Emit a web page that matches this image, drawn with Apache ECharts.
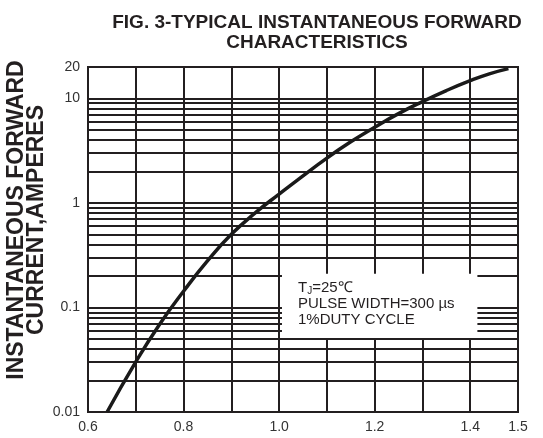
<!DOCTYPE html>
<html>
<head>
<meta charset="utf-8">
<script src="https://cdn.jsdelivr.net/npm/echarts@6/dist/echarts.min.js"></script>
<style>html,body{margin:0;padding:0;background:#fff;}#c{width:543px;height:438px;}</style>
</head>
<body>
<div id="c"></div>
<script>
// Forward voltage (V) and instantaneous forward current (A)
const voltage = [0.64, 0.70, 0.75, 0.80, 0.85, 0.90, 0.95, 1.00, 1.05, 1.10, 1.15, 1.20, 1.25, 1.30, 1.35, 1.40, 1.44, 1.48];
const current = [0.0100, 0.0302, 0.0692, 0.143, 0.279, 0.501, 0.804, 1.216, 1.82, 2.69, 3.85, 5.31, 7.16, 9.33, 11.9, 14.8, 17.2, 19.3];
const xTickLabels = ['0.6', '0.8', '1.0', '1.2', '1.4', '1.5'];
const yTickValues = [0.01, 0.1, 1, 10, 20];
const yTickLabels = ['0.01', '0.1', '1', '10', '20'];
const minorGridValues = [0.02,0.03,0.04,0.05,0.06,0.07,0.08,0.09,0.2,0.3,0.4,0.5,0.6,0.7,0.8,0.9,2,3,4,5,6,7,8,9];
const noteLines = ['PULSE WIDTH=300 \u00b5s', '1%DUTY CYCLE'];
const titleText = 'FIG. 3-TYPICAL INSTANTANEOUS FORWARD\nCHARACTERISTICS';
const yName = 'INSTANTANEOUS FORWARD\nCURRENT,AMPERES';

const ink = '#231f20';
const font = 'Liberation Sans, Arial, sans-serif';
const curveData = voltage.map((v, i) => [v, current[i]]);

const chart = echarts.init(document.getElementById('c'));
chart.setOption({
  animation: false,
  backgroundColor: '#fff',
  title: {
    text: titleText,
    left: 312, top: 8, textAlign: 'center',
    textStyle: { fontFamily: font, fontWeight: 'bold', fontSize: 19, lineHeight: 20, color: ink }
  },
  graphic: [{
    type: 'text', x: 27, y: 220, rotation: Math.PI / 2,
    style: { text: yName, fontFamily: font, fontWeight: 'bold', fontSize: 23, lineHeight: 20, fill: ink, align: 'center', verticalAlign: 'middle' }
  }],
  grid: { left: 88, right: 25, top: 67, bottom: 26, show: true, borderColor: ink, borderWidth: 2, backgroundColor: 'transparent' },
  xAxis: {
    type: 'value', min: 0.6, max: 1.5, interval: 0.1,
    axisLine: { show: false }, axisTick: { show: false },
    splitLine: { show: true, lineStyle: { color: ink, width: 2 } },
    axisLabel: {
      margin: 8, fontSize: 14, color: '#333', fontFamily: font,
      formatter: v => { const s = (Math.round(v * 10) / 10).toFixed(1); return xTickLabels.includes(s) ? s : ''; }
    }
  },
  yAxis: {
    type: 'log', logBase: 10, min: 0.01, max: 20,
    axisLine: { show: false }, axisTick: { show: false },
    splitLine: { show: true, lineStyle: { color: ink, width: 2 } },
    axisLabel: {
      margin: 8, fontSize: 14, color: '#333', fontFamily: font,
      formatter: v => {
        let best = -1, bd = 1e9;
        yTickValues.forEach((t, i) => { const d = Math.abs(Math.log10(v) - Math.log10(t)); if (d < bd) { bd = d; best = i; } });
        return bd < 0.01 ? yTickLabels[best] : '';
      }
    }
  },
  series: [
    {
      type: 'line', data: curveData, z: 1, silent: true, showSymbol: false,
      lineStyle: { opacity: 0 },
      markLine: {
        z: 1, silent: true, symbol: 'none', animation: false,
        label: { show: false },
        lineStyle: { color: ink, width: 2, type: 'solid' },
        emphasis: { disabled: true },
        data: minorGridValues.map(v => ({ yAxis: v }))
      }
    },
    {
      type: 'line', data: curveData, z: 3, silent: true, showSymbol: false,
      lineStyle: { opacity: 0 },
      markArea: {
        z: 10, silent: true,
        itemStyle: { color: '#fff', opacity: 1 },
        emphasis: { disabled: true },
        label: {
          show: true, position: 'insideTopLeft', distance: 0, padding: [6, 0, 0, 16],
          fontFamily: font, fontSize: 15, lineHeight: 16, color: ink,
          formatter: () => '{t|T}{s|J}{t|=25\u2103}\n' + noteLines.map(s => '{t|' + s + '}').join('\n'),
          rich: {
            t: { fontFamily: font, fontSize: 15, lineHeight: 16, color: ink },
            s: { fontFamily: font, fontSize: 10, lineHeight: 16, color: ink, verticalAlign: 'bottom' }
          }
        },
        data: [[{ xAxis: 1.006, yAxis: 0.21 }, { xAxis: 1.415, yAxis: 0.051 }]]
      }
    },
    {
      type: 'line', data: curveData, z: 20, smooth: true, showSymbol: false, silent: true,
      lineStyle: { color: '#1a1a1a', width: 3.5 }
    }
  ]
});
</script>
</body>
</html>
